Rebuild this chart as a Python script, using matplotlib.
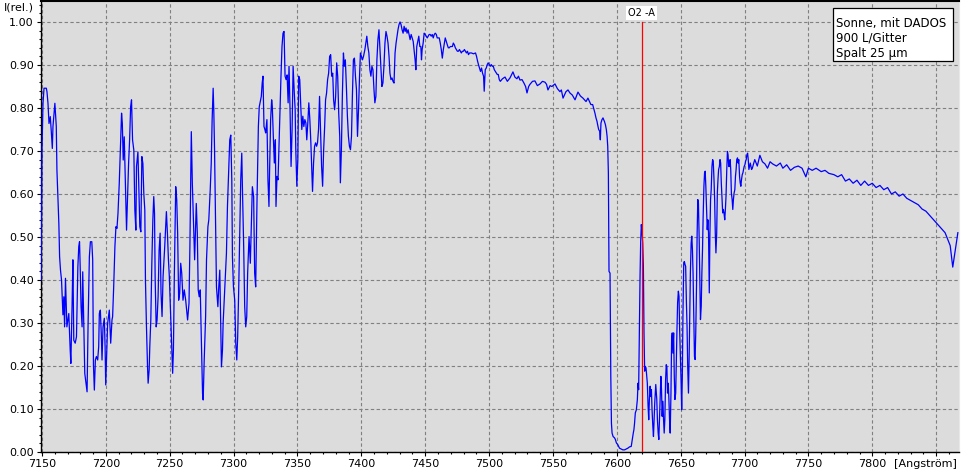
import matplotlib
matplotlib.use('Agg')
import matplotlib.pyplot as plt
import numpy as np
from matplotlib.ticker import MultipleLocator
from matplotlib.patches import Rectangle

plt.rcParams['font.family'] = ['DejaVu Sans']

# ---------------- data (wavelength in Angstrom, relative intensity) -------------
wl_a = [7149.4, 7150.0, 7150.8, 7151.6, 7153.4, 7153.9, 7154.7, 7155.5, 7156.5, 7157.3,
        7158.1, 7158.6, 7159.6, 7160.1, 7161.2, 7161.7, 7162.5, 7163.2, 7163.8, 7164.5,
        7165.3, 7166.4, 7167.1, 7167.7, 7168.4, 7169.5, 7171.0, 7172.1, 7172.6, 7173.6,
        7174.2, 7174.9, 7176.0, 7177.0, 7178.1, 7178.8, 7179.4, 7179.9, 7180.6, 7181.4,
        7181.9, 7182.7, 7183.5, 7184.5, 7185.3, 7186.1, 7187.1, 7187.9, 7189.0, 7189.7,
        7190.3, 7191.0, 7191.8, 7192.6, 7193.6, 7194.4, 7194.9, 7195.7, 7196.5, 7197.0,
        7197.8, 7198.8, 7199.4, 7199.9, 7200.6, 7201.4, 7202.7, 7203.8, 7204.8, 7205.3,
        7206.1, 7207.1, 7207.9, 7208.7, 7209.5, 7210.5, 7211.6, 7212.3, 7212.9, 7213.6,
        7214.4, 7215.5, 7216.2, 7217.0, 7217.8, 7218.6, 7219.4, 7220.1, 7220.9, 7221.9,
        7222.7, 7223.5, 7224.0, 7225.1, 7225.8, 7226.6, 7227.4, 7228.2, 7229.0, 7229.7,
        7230.5, 7231.0, 7231.8, 7232.6, 7233.1, 7233.9, 7234.4, 7235.2, 7236.0, 7236.8,
        7237.5, 7238.1, 7238.6, 7239.4, 7240.1, 7240.9, 7241.7, 7242.5, 7243.2, 7244.0,
        7244.8, 7246.1, 7247.4, 7248.2, 7249.0, 7249.7, 7250.5, 7251.6, 7252.3, 7252.9,
        7253.6, 7254.7, 7255.5, 7256.2, 7257.0, 7257.8, 7258.6, 7259.4, 7260.4, 7261.4,
        7262.5, 7264.0, 7265.1, 7265.8, 7266.9, 7267.7, 7268.7, 7269.5, 7270.8, 7271.6,
        7272.3, 7273.1, 7273.9, 7274.7, 7275.7, 7276.2, 7277.0, 7278.1, 7278.8, 7279.9,
        7280.6, 7281.7, 7282.5, 7283.2, 7284.0, 7284.5, 7285.1, 7285.8, 7286.6, 7287.7,
        7288.4, 7289.2, 7290.0, 7290.5, 7291.3, 7291.8, 7292.9, 7293.6, 7294.4, 7295.2,
        7296.2, 7297.0, 7297.8, 7298.6, 7299.1, 7299.9, 7300.9, 7301.7, 7302.5, 7303.2,
        7304.0, 7304.8, 7305.6, 7306.4, 7306.9, 7307.9, 7308.7, 7309.5, 7310.3, 7311.0,
        7312.1, 7313.1, 7313.9, 7314.7, 7315.7, 7316.5, 7317.3, 7318.3, 7319.4, 7320.1]
int_a = [0.400, 0.702, 0.811, 0.846, 0.846, 0.838, 0.811, 0.764, 0.780, 0.745,
         0.706, 0.757, 0.795, 0.811, 0.757, 0.656, 0.586, 0.532, 0.454, 0.423,
         0.400, 0.319, 0.361, 0.291, 0.404, 0.291, 0.322, 0.237, 0.206, 0.346,
         0.447, 0.260, 0.253, 0.268, 0.431, 0.478, 0.489, 0.431, 0.338, 0.291,
         0.419, 0.307, 0.183, 0.160, 0.140, 0.299, 0.454, 0.489, 0.489, 0.447,
         0.202, 0.144, 0.214, 0.222, 0.214, 0.245, 0.322, 0.330, 0.268, 0.214,
         0.291, 0.311, 0.245, 0.156, 0.222, 0.299, 0.330, 0.253, 0.307, 0.315,
         0.381, 0.478, 0.524, 0.520, 0.555, 0.625, 0.726, 0.788, 0.764, 0.679,
         0.733, 0.602, 0.516, 0.594, 0.671, 0.726, 0.803, 0.819, 0.726, 0.702,
         0.563, 0.516, 0.664, 0.698, 0.617, 0.524, 0.512, 0.687, 0.671, 0.602,
         0.563, 0.400, 0.291, 0.202, 0.160, 0.191, 0.245, 0.307, 0.439, 0.540,
         0.594, 0.555, 0.404, 0.291, 0.307, 0.361, 0.470, 0.509, 0.369, 0.315,
         0.408, 0.478, 0.559, 0.509, 0.447, 0.408, 0.338, 0.241, 0.183, 0.237,
         0.408, 0.617, 0.586, 0.509, 0.353, 0.369, 0.439, 0.416, 0.353, 0.377,
         0.353, 0.307, 0.346, 0.478, 0.745, 0.625, 0.524, 0.447, 0.578, 0.509,
         0.377, 0.361, 0.377, 0.268, 0.136, 0.121, 0.214, 0.315, 0.447, 0.524,
         0.540, 0.609, 0.671, 0.772, 0.846, 0.795, 0.702, 0.555, 0.384, 0.338,
         0.384, 0.423, 0.291, 0.198, 0.237, 0.299, 0.369, 0.416, 0.462, 0.571,
         0.656, 0.726, 0.737, 0.633, 0.454, 0.384, 0.353, 0.253, 0.214, 0.268,
         0.377, 0.509, 0.633, 0.695, 0.617, 0.478, 0.338, 0.291, 0.315, 0.416,
         0.501, 0.439, 0.532, 0.617, 0.594, 0.416, 0.384, 0.578, 0.757, 0.803]

wl_b = [7321.7, 7322.4, 7323.0, 7323.8, 7324.5, 7325.1, 7326.1, 7326.9, 7327.7, 7328.2,
        7329.0, 7329.8, 7330.3, 7331.1, 7331.9, 7332.7, 7333.2, 7334.0, 7334.8, 7335.6,
        7336.4, 7337.1, 7337.9, 7338.7, 7339.5, 7340.3, 7341.1, 7341.9, 7342.7, 7343.4,
        7344.2, 7345.0, 7345.8, 7346.6, 7347.4, 7348.2, 7348.7, 7349.5, 7350.3, 7351.0,
        7351.8, 7352.6, 7353.4, 7354.2, 7355.0, 7355.8, 7356.6, 7357.3, 7358.1, 7358.9,
        7359.7, 7360.5, 7361.3, 7361.8, 7362.6, 7363.4, 7364.2, 7365.0, 7365.7, 7366.5,
        7367.3, 7368.1, 7368.9, 7369.7, 7370.5, 7371.3, 7372.0, 7372.8, 7373.6, 7374.4,
        7375.2, 7376.0, 7376.8, 7377.6, 7378.3, 7379.1, 7379.9, 7380.7, 7381.5, 7382.3,
        7383.1, 7383.6, 7384.4, 7385.2, 7386.0, 7386.7, 7387.5, 7388.3, 7389.1, 7389.9,
        7390.7, 7391.5, 7392.3, 7393.0, 7393.8, 7394.6, 7395.4, 7396.2, 7397.0, 7397.8,
        7398.6, 7399.3, 7400.1, 7400.9, 7401.7, 7402.8, 7403.5, 7404.3, 7405.1, 7405.9,
        7406.7, 7407.5, 7408.3, 7409.1, 7409.9, 7410.6, 7411.4, 7412.2, 7413.0, 7413.8,
        7414.6, 7415.4, 7416.1, 7416.9, 7417.7, 7418.5, 7419.3, 7420.1, 7420.9, 7421.7,
        7422.4, 7423.2, 7424.0, 7424.8, 7425.6, 7426.4, 7427.2, 7428.0, 7428.7, 7429.5,
        7430.3, 7431.1, 7431.9, 7432.7, 7433.5, 7434.3, 7435.0, 7435.8, 7436.6, 7437.4,
        7438.2, 7439.0, 7439.8, 7440.6, 7441.3, 7442.1, 7442.7, 7443.4, 7444.2, 7445.0,
        7445.8, 7446.6, 7447.1, 7447.6, 7448.4, 7449.2, 7450.0, 7450.8, 7451.6, 7452.4,
        7453.1, 7453.9, 7454.7, 7455.5, 7456.3, 7457.1, 7457.9, 7458.7, 7459.4, 7460.2,
        7461.0, 7461.8, 7462.6, 7463.4, 7464.2, 7465.0, 7465.7, 7466.5, 7467.3, 7468.1,
        7468.9, 7469.7, 7470.5, 7471.3, 7472.0, 7472.8, 7473.6, 7474.4, 7475.2, 7476.0,
        7476.8, 7477.6, 7478.3, 7479.1, 7479.9, 7480.7, 7481.5, 7482.3, 7483.1, 7483.9,
        7484.7, 7486.2, 7487.8, 7489.4, 7490.2, 7491.0, 7491.7, 7492.5, 7493.3, 7494.1,
        7494.9, 7495.7, 7496.2, 7497.0, 7497.8, 7498.6, 7499.3, 7500.1, 7500.9, 7501.7,
        7502.5, 7503.3, 7504.1, 7504.9, 7505.6, 7506.4, 7507.2, 7508.0, 7508.8]
int_b = [0.827, 0.858, 0.874, 0.757, 0.750, 0.742, 0.773, 0.633, 0.571, 0.657,
         0.773, 0.819, 0.804, 0.734, 0.672, 0.726, 0.571, 0.641, 0.633, 0.719,
         0.796, 0.874, 0.943, 0.974, 0.978, 0.874, 0.866, 0.877, 0.812, 0.897,
         0.796, 0.664, 0.750, 0.897, 0.843, 0.796, 0.703, 0.618, 0.680, 0.874,
         0.866, 0.804, 0.750, 0.781, 0.757, 0.773, 0.765, 0.726, 0.765, 0.812,
         0.773, 0.719, 0.649, 0.606, 0.672, 0.711, 0.719, 0.711, 0.719, 0.750,
         0.827, 0.742, 0.664, 0.618, 0.703, 0.757, 0.819, 0.835, 0.866, 0.881,
         0.920, 0.924, 0.874, 0.881, 0.819, 0.796, 0.827, 0.905, 0.874, 0.788,
         0.734, 0.626, 0.703, 0.835, 0.928, 0.897, 0.912, 0.850, 0.781, 0.734,
         0.711, 0.703, 0.734, 0.827, 0.912, 0.916, 0.874, 0.843, 0.734, 0.796,
         0.874, 0.928, 0.920, 0.912, 0.920, 0.936, 0.951, 0.967, 0.943, 0.928,
         0.889, 0.874, 0.897, 0.889, 0.843, 0.812, 0.827, 0.912, 0.959, 0.982,
         0.936, 0.889, 0.850, 0.858, 0.897, 0.951, 0.978, 0.967, 0.951, 0.920,
         0.881, 0.866, 0.870, 0.862, 0.858, 0.928, 0.951, 0.967, 0.982, 0.994,
         1.000, 0.994, 0.982, 0.974, 0.990, 0.978, 0.986, 0.974, 0.982, 0.971,
         0.959, 0.971, 0.963, 0.955, 0.936, 0.912, 0.889, 0.943, 0.955, 0.967,
         0.943, 0.943, 0.912, 0.936, 0.951, 0.974, 0.971, 0.967, 0.963, 0.967,
         0.971, 0.971, 0.967, 0.971, 0.963, 0.971, 0.974, 0.971, 0.963, 0.963,
         0.963, 0.951, 0.936, 0.916, 0.936, 0.951, 0.963, 0.955, 0.947, 0.940,
         0.940, 0.943, 0.943, 0.943, 0.951, 0.947, 0.940, 0.936, 0.932, 0.932,
         0.936, 0.932, 0.928, 0.932, 0.932, 0.936, 0.932, 0.928, 0.932, 0.924,
         0.928, 0.928, 0.926, 0.928, 0.920, 0.909, 0.901, 0.893, 0.885, 0.893,
         0.881, 0.874, 0.839, 0.889, 0.893, 0.901, 0.905, 0.901, 0.897, 0.901,
         0.897, 0.897, 0.889, 0.885, 0.881, 0.878, 0.878, 0.866, 0.862]

wl_c = [7510.5, 7512.5, 7514.3, 7516.4, 7518.7, 7520.2, 7521.8, 7523.0, 7524.2, 7525.8,
        7527.3, 7528.6, 7529.7, 7531.0, 7532.0, 7534.0, 7535.9, 7537.8, 7539.9, 7541.8,
        7543.8, 7545.0, 7546.1, 7547.8, 7549.2, 7551.6, 7553.5, 7555.5, 7556.6, 7557.9,
        7560.2, 7561.8, 7563.3, 7565.2, 7567.3, 7569.6, 7571.5, 7573.5, 7575.9, 7577.4]
int_c = [0.868, 0.872, 0.862, 0.870, 0.884, 0.872, 0.868, 0.874, 0.865, 0.866,
         0.858, 0.850, 0.835, 0.850, 0.855, 0.862, 0.863, 0.852, 0.856, 0.862,
         0.860, 0.855, 0.842, 0.852, 0.850, 0.856, 0.845, 0.838, 0.842, 0.823,
         0.838, 0.842, 0.835, 0.830, 0.819, 0.837, 0.828, 0.823, 0.815, 0.823]

wl_d = [7579.7, 7581.1, 7581.8, 7582.9, 7583.7, 7584.5, 7585.0, 7585.8, 7586.6, 7587.1,
        7587.6, 7588.4, 7589.2, 7589.7, 7590.3, 7591.1, 7591.8, 7592.4, 7592.9, 7593.4,
        7593.9, 7594.7, 7595.3, 7595.8, 7596.3, 7597.1, 7598.2, 7598.9, 7599.7, 7600.8,
        7602.1, 7603.4, 7604.7, 7606.1, 7607.4, 7608.7, 7610.0, 7611.3, 7612.1, 7612.9,
        7613.4, 7613.9, 7614.5, 7615.3, 7616.1, 7616.6, 7617.1, 7617.6, 7618.2, 7618.7,
        7619.2, 7619.7, 7620.3, 7620.8, 7621.3, 7621.8, 7622.4, 7622.9, 7623.4, 7623.9,
        7624.5, 7625.0, 7625.5, 7626.1, 7626.6, 7627.1, 7627.6, 7628.2, 7628.7, 7629.2,
        7629.7, 7630.5, 7631.3, 7631.8, 7632.4, 7632.9, 7633.4, 7633.9, 7634.5, 7635.0,
        7635.5, 7636.1, 7636.6, 7637.1, 7637.6, 7638.2, 7638.7, 7639.2, 7639.7, 7640.3,
        7640.8, 7641.3, 7641.8, 7642.4, 7642.9, 7643.4, 7643.9, 7644.5, 7645.0, 7645.5,
        7646.1, 7646.6, 7647.1, 7647.6, 7648.2, 7648.7, 7649.2, 7649.7, 7650.3, 7650.8,
        7651.3, 7651.8, 7652.4, 7652.9, 7653.4, 7653.9, 7654.5, 7655.0, 7655.5, 7656.1,
        7656.6, 7657.1, 7657.6, 7658.2, 7658.7, 7659.2, 7659.7, 7660.3, 7660.8, 7661.3,
        7661.8, 7662.4, 7662.9, 7663.4, 7663.9, 7664.5, 7665.0, 7665.5, 7666.1, 7666.6,
        7667.1, 7667.6, 7668.2, 7668.7, 7669.2, 7669.7, 7670.3, 7670.8, 7671.3, 7671.8,
        7672.4, 7672.9, 7673.4, 7673.9, 7674.5, 7675.0, 7675.5, 7676.1, 7676.6, 7677.1,
        7677.6, 7678.2, 7678.7, 7679.2, 7679.7, 7680.3, 7680.8, 7681.3, 7681.8, 7682.4,
        7682.9, 7683.4, 7683.9, 7684.5, 7685.0, 7685.5, 7686.1, 7686.6, 7687.1, 7687.6,
        7688.2, 7688.7, 7689.2, 7689.7, 7690.3, 7690.8, 7691.3, 7691.8, 7692.4, 7692.9,
        7693.4, 7693.9, 7694.5, 7695.0, 7695.5, 7696.1, 7696.6, 7697.1, 7697.6, 7698.2,
        7698.7, 7699.2, 7699.7, 7700.3, 7700.8, 7701.3, 7701.8, 7702.4, 7702.9, 7703.4,
        7703.9, 7704.5, 7705.0, 7705.5, 7706.1]
int_d = [0.808, 0.808, 0.800, 0.788, 0.777, 0.769, 0.761, 0.750, 0.746, 0.726,
         0.765, 0.773, 0.777, 0.773, 0.769, 0.761, 0.750, 0.734, 0.711, 0.649,
         0.420, 0.416, 0.176, 0.067, 0.044, 0.036, 0.033, 0.029, 0.021, 0.017,
         0.009, 0.007, 0.005, 0.005, 0.007, 0.009, 0.012, 0.013, 0.029, 0.044,
         0.052, 0.067, 0.091, 0.098, 0.122, 0.160, 0.145, 0.265, 0.409, 0.490,
         0.529, 0.513, 0.486, 0.432, 0.277, 0.188, 0.199, 0.195, 0.176, 0.160,
         0.106, 0.075, 0.122, 0.153, 0.129, 0.145, 0.098, 0.060, 0.036, 0.075,
         0.114, 0.157, 0.122, 0.075, 0.044, 0.029, 0.075, 0.118, 0.176, 0.145,
         0.083, 0.118, 0.075, 0.044, 0.075, 0.168, 0.203, 0.199, 0.137, 0.160,
         0.122, 0.075, 0.044, 0.137, 0.261, 0.277, 0.230, 0.277, 0.176, 0.122,
         0.137, 0.215, 0.284, 0.347, 0.374, 0.362, 0.284, 0.230, 0.168, 0.098,
         0.176, 0.323, 0.440, 0.443, 0.436, 0.432, 0.347, 0.292, 0.199, 0.137,
         0.215, 0.323, 0.416, 0.486, 0.502, 0.471, 0.416, 0.308, 0.222, 0.215,
         0.277, 0.385, 0.509, 0.587, 0.579, 0.494, 0.393, 0.308, 0.339, 0.416,
         0.471, 0.548, 0.618, 0.649, 0.653, 0.618, 0.564, 0.517, 0.540, 0.509,
         0.370, 0.509, 0.587, 0.610, 0.664, 0.680, 0.676, 0.633, 0.587, 0.509,
         0.463, 0.509, 0.602, 0.633, 0.657, 0.664, 0.680, 0.672, 0.626, 0.587,
         0.556, 0.564, 0.556, 0.540, 0.564, 0.595, 0.657, 0.699, 0.691, 0.664,
         0.664, 0.680, 0.657, 0.602, 0.587, 0.564, 0.587, 0.602, 0.610, 0.641,
         0.657, 0.680, 0.684, 0.672, 0.680, 0.641, 0.626, 0.618, 0.633, 0.645,
         0.649, 0.657, 0.664, 0.668, 0.676, 0.680, 0.691, 0.695, 0.680, 0.657,
         0.664, 0.672, 0.664, 0.657, 0.660]

wl_e = [7708.0, 7710.0, 7712.0, 7714.0, 7716.0, 7718.0, 7720.0, 7722.0, 7725.0, 7728.0,
        7730.0, 7733.0, 7736.0, 7739.0, 7742.0, 7745.0, 7748.0, 7750.0, 7753.0, 7756.0,
        7760.0, 7763.0, 7766.0, 7770.0, 7773.0, 7776.0, 7779.0, 7782.0, 7785.0, 7788.0,
        7791.0, 7794.0, 7797.0, 7800.0, 7803.0, 7806.0, 7809.0, 7812.0, 7815.0, 7818.0,
        7821.0, 7824.0, 7827.0, 7830.0, 7833.0, 7836.0, 7839.0, 7842.0, 7845.0, 7848.0,
        7851.0, 7854.0, 7857.0, 7859.0, 7861.0, 7863.0, 7865.0, 7867.0]
int_e = [0.680, 0.665, 0.690, 0.675, 0.670, 0.660, 0.675, 0.670, 0.665, 0.672,
         0.660, 0.668, 0.655, 0.662, 0.665, 0.660, 0.640, 0.660, 0.655, 0.660,
         0.652, 0.655, 0.648, 0.645, 0.640, 0.645, 0.630, 0.635, 0.625, 0.632,
         0.620, 0.630, 0.620, 0.625, 0.615, 0.620, 0.610, 0.615, 0.600, 0.605,
         0.595, 0.600, 0.590, 0.585, 0.580, 0.575, 0.565, 0.560, 0.550, 0.540,
         0.530, 0.520, 0.510, 0.495, 0.480, 0.430, 0.470, 0.510]

o2a_wavelength = 7619.4
o2a_label = 'O2 -A'
x_ticks = [7150, 7200, 7250, 7300, 7350, 7400, 7450, 7500, 7550, 7600, 7650, 7700, 7750, 7800, 7850]
y_ticks = [0.0, 0.1, 0.2, 0.3, 0.4, 0.5, 0.6, 0.7, 0.8, 0.9, 1.0]
legend_lines = ['Sonne, mit DADOS', '900 L/Gitter', 'Spalt 25 µm']

wl = np.concatenate([wl_a, wl_b, wl_c, wl_d, wl_e])
inten = np.concatenate([int_a, int_b, int_c, int_d, int_e])

# ---------------- figure ----------------
W, H = 961, 474
fig = plt.figure(figsize=(W / 100, H / 100), dpi=100)
fig.patch.set_facecolor('white')
ax = fig.add_axes([40.7 / W, 22 / H, 917.8 / W, 451.5 / H])
ax.set_facecolor('#dcdcdc')

ax.plot(wl, inten, color='#0000ff', lw=0.9, zorder=3)
ax.plot([o2a_wavelength, o2a_wavelength], [0, 1.0], color='#ff0000', lw=0.9, zorder=4)
ax.text(o2a_wavelength, 1.021, o2a_label, ha='center', va='center', fontsize=7,
        bbox=dict(facecolor='white', edgecolor='none', pad=1.2), zorder=5)

ax.set_xlim(7149.0, 7867.5)
ax.set_ylim(0, 1.05)

ax.set_xticks(x_ticks)
ax.set_xticklabels([str(v) for v in x_ticks[:-1]] + [''])
ax.xaxis.set_minor_locator(MultipleLocator(10))
ax.set_yticks(y_ticks)
ax.set_yticklabels(['%.2f' % v for v in y_ticks])
ax.yaxis.set_minor_locator(MultipleLocator(0.02))

ax.tick_params(which='major', direction='out', length=3, width=0.8, labelsize=8, pad=2,
               colors='black')
ax.tick_params(which='minor', direction='out', length=1.6, width=0.8)

ax.grid(True, which='major', color='#808080', linestyle=(0, (3, 2.2)), linewidth=0.8)
ax.set_axisbelow(True)

for s in ['left', 'bottom']:
    ax.spines[s].set_color('black')
    ax.spines[s].set_linewidth(1.0)
ax.spines['top'].set_color('black')
ax.spines['top'].set_linewidth(1.5)
ax.spines['right'].set_color('#e8e8e8')

ax.text(0.998, -0.0150, '[Angström]', transform=ax.transAxes, ha='right', va='top',
        fontsize=8)
fig.text(4 / W, 1 - 10.5 / H, 'I(rel.)', ha='left', va='baseline', fontsize=8)

# legend box
ax.add_patch(Rectangle((0.8636, 0.866), 0.9940 - 0.8636, 0.9827 - 0.866,
                       transform=ax.transAxes, facecolor='white', edgecolor='black',
                       lw=0.9, zorder=6))
for txt, yy in zip(legend_lines, [0.942, 0.9087, 0.8749]):
    ax.text(0.8665, yy, txt, transform=ax.transAxes, ha='left', va='baseline',
            fontsize=8.5, zorder=7)

fig.savefig('out.png', dpi=100)
